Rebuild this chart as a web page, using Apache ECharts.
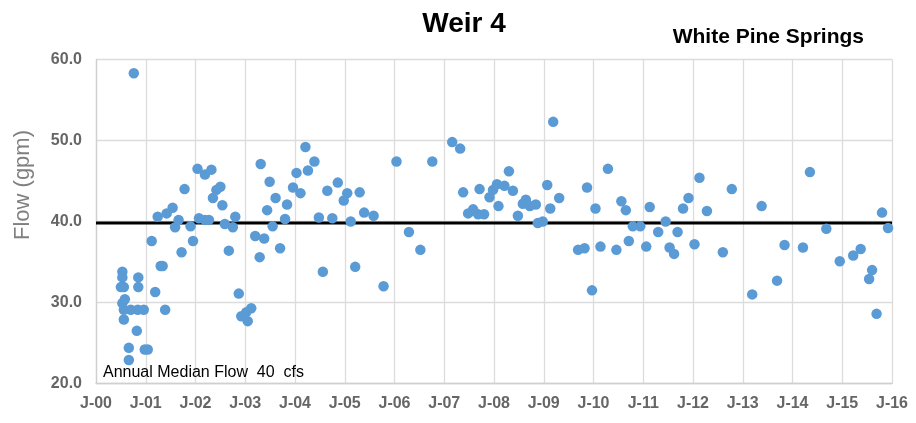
<!DOCTYPE html>
<html>
<head>
<meta charset="utf-8">
<title>Weir 4</title>
<script src="https://cdn.jsdelivr.net/npm/echarts@6/dist/echarts.min.js"></script>
<style>
  html, body { margin: 0; padding: 0; background: #ffffff; }
  #chart { width: 916px; height: 423px; }
</style>
</head>
<body>
<div id="chart"></div>
<script>
// Sample dates (decimal years) and measured flow (gpm) at Weir 4
const sampleYear = [
  2000.53, 2000.53, 2000.50, 2000.56, 2000.85, 2000.85, 2000.58, 2000.53, 2000.56, 2000.70,
  2000.84, 2000.96, 2000.56, 2000.82, 2000.66, 2000.98, 2001.04, 2000.66, 2000.76, 2001.19,
  2001.39, 2001.12, 2001.30, 2001.34, 2001.24, 2001.42, 2001.54, 2001.66, 2001.59, 2001.78,
  2001.72, 2001.90, 2001.95, 2002.04, 2002.19, 2002.32, 2002.07, 2002.19, 2002.27, 2002.42,
  2002.50, 2002.35, 2002.54, 2002.59, 2002.75, 2002.80, 2002.67, 2002.87, 2002.92, 2003.02,
  2003.12, 2003.05, 2003.20, 2003.29, 2003.31, 2003.38, 2003.44, 2003.49, 2003.55, 2003.61,
  2003.70, 2003.80, 2003.84, 2003.96, 2004.03, 2004.11, 2004.21, 2004.26, 2004.39, 2004.56,
  2004.65, 2004.48, 2004.75, 2004.86, 2004.98, 2005.05, 2005.12, 2005.21, 2005.30, 2005.39,
  2005.58, 2005.78, 2006.04, 2006.29, 2006.52, 2006.76, 2007.16, 2007.32, 2007.38, 2007.48,
  2007.58, 2007.68, 2007.71, 2007.80, 2007.91, 2007.98, 2008.06, 2008.09, 2008.21, 2008.30,
  2008.38, 2008.48, 2008.58, 2008.64, 2008.72, 2008.84, 2008.88, 2008.98, 2009.07, 2009.13,
  2009.19, 2009.31, 2009.69, 2009.82, 2009.87, 2009.97, 2010.04, 2010.14, 2010.29, 2010.46,
  2010.56, 2010.65, 2010.71, 2010.79, 2010.94, 2011.06, 2011.13, 2011.30, 2011.45, 2011.53,
  2011.62, 2011.69, 2011.80, 2011.91, 2012.13, 2012.03, 2012.28, 2012.60, 2012.78, 2013.19,
  2013.38, 2013.69, 2013.84, 2014.21, 2014.35, 2014.68, 2014.95, 2015.22, 2015.37, 2015.54,
  2015.60, 2015.69, 2015.80, 2015.92
];
const flowGpm = [
  33.8, 33.1, 31.9, 31.9, 33.1, 31.9, 30.4, 29.9, 29.1, 29.1,
  29.1, 29.1, 27.9, 26.5, 24.4, 24.2, 24.2, 22.9, 58.3, 31.3,
  29.1, 37.6, 34.5, 34.5, 40.6, 41.0, 41.7, 40.2, 39.3, 44.0,
  36.2, 39.4, 37.6, 46.5, 45.8, 46.4, 40.4, 40.2, 40.2, 43.9,
  44.3, 42.9, 42.0, 39.7, 39.3, 40.6, 36.4, 31.1, 28.3, 28.8,
  29.3, 27.7, 38.2, 35.6, 47.1, 37.9, 41.4, 44.9, 39.4, 42.9,
  36.7, 40.3, 42.1, 44.2, 46.0, 43.5, 49.2, 46.3, 47.4, 33.8,
  43.8, 40.5, 40.4, 44.8, 42.6, 43.5, 40.0, 34.4, 43.6, 41.1,
  40.7, 32.0, 47.4, 38.7, 36.5, 47.4, 49.8, 49.0, 43.6, 41.0,
  41.5, 40.9, 44.0, 40.9, 43.0, 43.9, 44.6, 41.9, 44.4, 46.2,
  43.8, 40.7, 42.2, 42.7, 41.9, 42.1, 39.8, 40.0, 44.5, 41.6,
  52.3, 42.9, 36.5, 36.7, 44.2, 31.5, 41.6, 36.9, 46.5, 36.5,
  42.5, 41.4, 37.6, 39.4, 39.4, 36.9, 41.8, 38.7, 40.0, 36.8,
  36.0, 38.7, 41.6, 42.9, 45.4, 37.2, 41.3, 36.2, 44.0, 31.0,
  41.9, 32.7, 37.1, 36.8, 46.1, 39.1, 35.1, 35.8, 36.6, 32.9,
  34.0, 28.6, 41.1, 39.2
];
// Annual median flow shown as the reference line
const medianFlow = 39.8;

// Axis extents and tick spacing
const yearStart = 2000, yearEnd = 2016, yearStep = 1;
const flowMin = 20, flowMax = 60, flowStep = 10;

const points = sampleYear.map((t, i) => [t, flowGpm[i]]);
const FONT = "'Liberation Sans', Arial, Helvetica, sans-serif";

const chart = echarts.init(document.getElementById('chart'), null, { renderer: 'canvas' });

chart.setOption({
  backgroundColor: '#ffffff',
  animation: false,
  grid: { left: 96, right: 24, top: 59.5, bottom: 39.5, containLabel: false },
  xAxis: {
    type: 'value',
    min: yearStart,
    max: yearEnd,
    interval: yearStep,
    axisLine: { show: true, lineStyle: { color: '#d0d0d0', width: 1.3 } },
    axisTick: { show: false },
    splitLine: { show: true, lineStyle: { color: '#dcdcdc', width: 1.3 } },
    axisLabel: {
      interval: 0,
      showMinLabel: true,
      showMaxLabel: true,
      margin: 12,
      color: '#666666',
      fontFamily: FONT,
      fontWeight: 'bold',
      fontSize: 16,
      formatter: v => 'J-' + String(Math.round(v) % 100).padStart(2, '0')
    }
  },
  yAxis: {
    type: 'value',
    min: flowMin,
    max: flowMax,
    interval: flowStep,
    axisLine: { show: true, lineStyle: { color: '#d0d0d0', width: 1.3 } },
    axisTick: { show: false },
    splitLine: { show: true, lineStyle: { color: '#dcdcdc', width: 1.3 } },
    axisLabel: {
      margin: 14,
      color: '#666666',
      fontFamily: FONT,
      fontWeight: 'bold',
      fontSize: 16,
      formatter: v => v.toFixed(1)
    }
  },
  series: [
    {
      name: 'Annual Median Flow',
      type: 'line',
      z: 1,
      silent: true,
      symbol: 'none',
      lineStyle: { color: '#000000', width: 3 },
      data: [[yearStart, medianFlow], [yearEnd, medianFlow]]
    },
    {
      name: 'Flow',
      type: 'scatter',
      z: 2,
      symbol: 'circle',
      symbolSize: 10.5,
      itemStyle: { color: '#5B9BD5', opacity: 1 },
      data: points
    }
  ],
  graphic: [
    {
      type: 'text',
      style: {
        text: 'Weir 4', x: 464, y: 24,
        textAlign: 'center', textVerticalAlign: 'middle',
        fontFamily: FONT, fontWeight: 'bold', fontSize: 28, fill: '#000000'
      }
    },
    {
      type: 'text',
      style: {
        text: 'White Pine Springs', x: 864, y: 37,
        textAlign: 'right', textVerticalAlign: 'middle',
        fontFamily: FONT, fontWeight: 'bold', fontSize: 21, fill: '#000000'
      }
    },
    {
      type: 'text',
      rotation: Math.PI / 2,
      x: 23, y: 185,
      style: {
        text: 'Flow (gpm)', x: 0, y: 0,
        textAlign: 'center', textVerticalAlign: 'middle',
        fontFamily: FONT, fontSize: 22, fill: '#808080'
      }
    },
    {
      type: 'text',
      z: 10,
      style: {
        text: 'Annual Median Flow  ' + Math.round(medianFlow) + '  cfs', x: 103, y: 373,
        textAlign: 'left', textVerticalAlign: 'middle',
        fontFamily: FONT, fontSize: 16, fill: '#000000'
      }
    }
  ]
});
</script>
</body>
</html>
